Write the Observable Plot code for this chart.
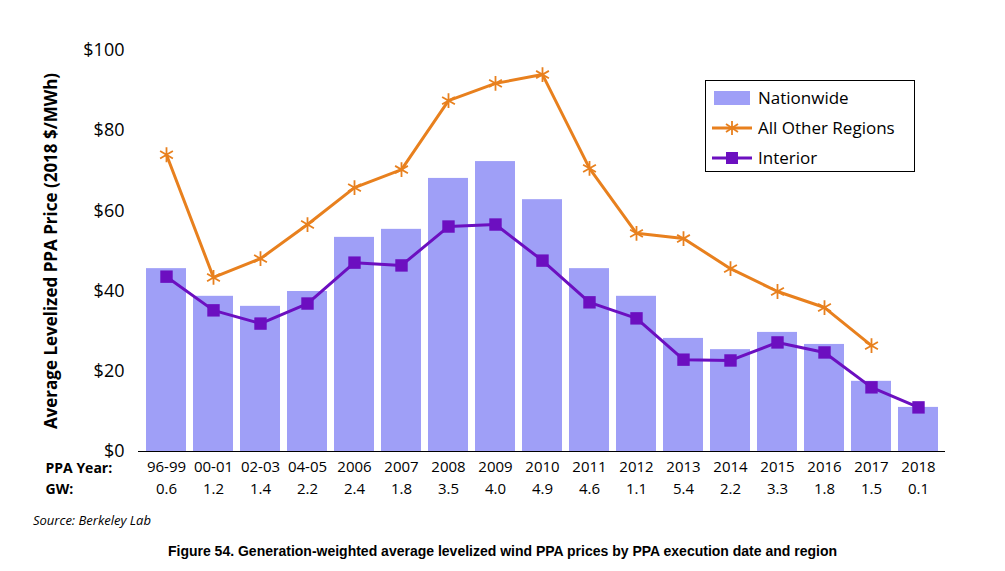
<!DOCTYPE html>
<html><head><meta charset="utf-8">
<script src="https://cdn.jsdelivr.net/npm/d3@7"></script>
<script src="https://cdn.jsdelivr.net/npm/@observablehq/plot@0.6"></script>
<style>
body{margin:0;background:#fff;font-family:"Open Sans",sans-serif;}
#wrap{position:relative;width:1005px;height:571px;}
.abs{position:absolute;}
</style></head><body><div id="wrap"></div>
<script>
const years=["96-99","00-01","02-03","04-05","2006","2007","2008","2009","2010","2011","2012","2013","2014","2015","2016","2017","2018"];
const gw=["0.6","1.2","1.4","2.2","2.4","1.8","3.5","4.0","4.9","4.6","1.1","5.4","2.2","3.3","1.8","1.5","0.1"];
const nationwide=[45.6,38.7,36.2,39.9,53.4,55.4,68.1,72.3,62.8,45.6,38.7,28.2,25.4,29.7,26.7,17.5,11.0];
const otherRegions=[74.0,43.4,48.1,56.6,65.8,70.3,87.5,91.8,94.0,70.6,54.4,53.1,45.6,39.9,35.9,26.4,null];
const interior=[43.6,35.2,31.9,36.9,47.1,46.4,56.1,56.6,47.6,37.2,33.2,22.9,22.7,27.2,24.7,16.0,11.0];
const yTicks=[0,20,40,60,80,100];
const ORANGE="#e8801e",PURPLE="#6c0fc0",BAR="#9f9ff7";
const rows=years.map((y,i)=>({y,gw:gw[i],n:nationwide[i],o:otherRegions[i],p:interior[i]}));
const oRows=rows.filter(d=>d.o!=null);
const chart=Plot.plot({
  width:1005,height:500,marginLeft:138,marginRight:60,marginTop:50,marginBottom:49,
  style:{fontFamily:"Open Sans, sans-serif",fontSize:"15px",color:"#000"},
  x:{domain:years,padding:0.15,axis:null},
  y:{domain:[0,100],ticks:yTicks,tickFormat:d=>"$"+d,label:null},
  marks:[
    Plot.barY(rows,{x:"y",y:"n",fill:BAR}),
    Plot.line(oRows,{x:"y",y:"o",stroke:ORANGE,strokeWidth:3}),
    Plot.dot(oRows,{x:"y",y:"o",symbol:"asterisk",stroke:ORANGE,r:7,strokeWidth:1.8}),
    Plot.line(rows,{x:"y",y:"p",stroke:PURPLE,strokeWidth:3}),
    Plot.dot(rows,{x:"y",y:"p",symbol:"square",fill:PURPLE,r:7}),
    Plot.axisY({ticks:yTicks,tickFormat:d=>"$"+d,fontSize:18,tickSize:0,tickPadding:14,label:null}),
    Plot.ruleX([0],{}),
    Plot.ruleY([0]),
    Plot.text(rows,{x:"y",text:"y",frameAnchor:"bottom",dy:20,fontSize:15}),
    Plot.text(rows,{x:"y",text:"gw",frameAnchor:"bottom",dy:42,fontSize:15}),
    Plot.text(["PPA Year:"],{frameAnchor:"bottom-left",dx:-93,dy:21,fontWeight:"bold",fontSize:14,textAnchor:"start"}),
    Plot.text(["GW:"],{frameAnchor:"bottom-left",dx:-93,dy:42,fontWeight:"bold",fontSize:14,textAnchor:"start"}),
    Plot.text(["Average Levelized PPA Price (2018 $/MWh)"],{frameAnchor:"left",dx:-87,rotate:-90,textAnchor:"middle",fontWeight:"bold",fontSize:17})
  ]
});
const wrap=document.getElementById("wrap");
wrap.appendChild(chart);
const legend=document.createElement("div");legend.className="abs";
legend.style.cssText="left:705px;top:80px;width:208px;height:90px;border:1px solid #000;font-size:17px;";
legend.innerHTML=`<svg width="208" height="90">
<rect x="8" y="10" width="36" height="14" fill="${BAR}"/><text x="52" y="23" font-size="17">Nationwide</text>
<line x1="6" x2="46" y1="47" y2="47" stroke="${ORANGE}" stroke-width="3"/><path d="M26,40V54M20,43L32,51M32,43L20,51" stroke="${ORANGE}" stroke-width="1.8"/><text x="52" y="53" font-size="17">All Other Regions</text>
<line x1="6" x2="46" y1="77" y2="77" stroke="${PURPLE}" stroke-width="3"/><rect x="20" y="71" width="12" height="12" fill="${PURPLE}"/><text x="52" y="83" font-size="17">Interior</text></svg>`;
wrap.appendChild(legend);
const src=document.createElement("div");src.className="abs";
src.style.cssText="left:33px;top:511px;font-size:13px;font-style:italic;";src.textContent="Source: Berkeley Lab";wrap.appendChild(src);
const cap=document.createElement("div");cap.className="abs";
cap.style.cssText="left:0;width:1005px;text-align:center;top:543px;font-size:14px;font-weight:bold;font-family:'Liberation Sans',sans-serif;";
cap.textContent="Figure 54. Generation-weighted average levelized wind PPA prices by PPA execution date and region";wrap.appendChild(cap);
</script></body></html>
